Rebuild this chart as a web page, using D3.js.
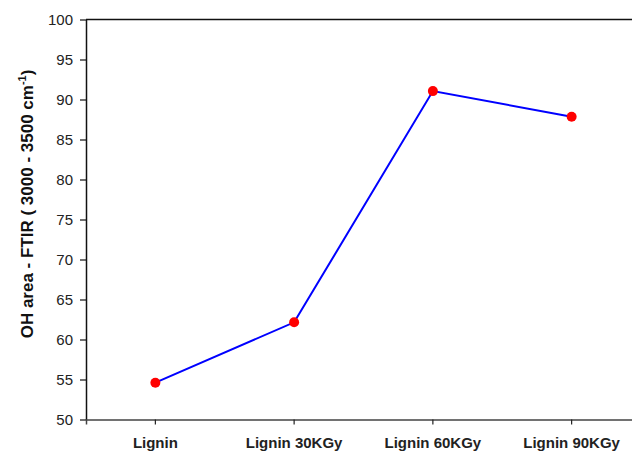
<!DOCTYPE html>
<html>
<head>
<meta charset="utf-8">
<script src="https://cdn.jsdelivr.net/npm/d3@7"></script>
<style>
  body { margin: 0; background: #fff; }
  svg { display: block; font-family: "Liberation Sans", Arial, sans-serif; }
</style>
</head>
<body>
<div id="vis"></div>
<script>
var width = 632,
    height = 452;

// data
var samples = ["Lignin", "Lignin 30KGy", "Lignin 60KGy", "Lignin 90KGy"];
var ohArea = [54.6, 62.15, 91.05, 87.85];
var yTicks = [50, 55, 60, 65, 70, 75, 80, 85, 90, 95, 100];

var plotLeft = 86, plotTop = 19.5, plotBottom = 419.5, plotRight = 641;

var svg = d3.select("#vis").append("svg")
    .attr("width", width)
    .attr("height", height);

var x = d3.scaleBand()
    .domain(samples)
    .range([plotLeft, plotRight]);

var y = d3.scaleLinear()
    .domain([50, 100])
    .range([plotBottom, plotTop]);

// top frame line
svg.append("line")
    .attr("x1", plotLeft).attr("x2", plotRight)
    .attr("y1", plotTop).attr("y2", plotTop)
    .attr("stroke", "#111")
    .attr("stroke-width", 1.5);

// y axis
var yAxis = svg.append("g")
    .attr("transform", "translate(" + plotLeft + ",0)")
    .call(d3.axisLeft(y).tickValues(yTicks).tickSize(6).tickSizeOuter(0).tickPadding(7));
yAxis.select(".domain").attr("stroke", "#111").attr("stroke-width", 1.5);
yAxis.selectAll(".tick line").attr("stroke", "#111").attr("stroke-width", 1.2);
yAxis.selectAll("text")
    .style("font-size", "15px")
    .style("fill", "#222");

// x axis
var xAxis = svg.append("g")
    .attr("transform", "translate(0," + plotBottom + ")")
    .call(d3.axisBottom(x).tickSizeOuter(0).tickSize(5).tickPadding(13));
xAxis.select(".domain").attr("stroke", "#444").attr("stroke-width", 1.5);
xAxis.selectAll(".tick line").attr("stroke", "#222").attr("stroke-width", 1.2);
xAxis.selectAll("text")
    .style("font-size", "15px")
    .style("font-weight", "bold")
    .style("fill", "#222");

// y axis title
var title = svg.append("text")
    .attr("transform", "translate(33,204) rotate(-90)")
    .attr("text-anchor", "middle")
    .style("font-size", "17px")
    .style("font-weight", "bold")
    .style("fill", "#111");
title.append("tspan").text("OH area - FTIR ( 3000 - 3500 cm");
title.append("tspan").attr("dy", -7).style("font-size", "11px").text("-1");
title.append("tspan").attr("dy", 7).text(")");

// line + points
var pts = samples.map(function(d, i) { return [x(d) + x.bandwidth() / 2, y(ohArea[i])]; });

svg.append("path")
    .datum(pts)
    .attr("fill", "none")
    .attr("stroke", "#0000ff")
    .attr("stroke-width", 2)
    .attr("d", d3.line());

svg.selectAll(".pt")
    .data(pts)
    .enter()
    .append("circle")
    .attr("class", "pt")
    .attr("cx", function(d) { return d[0]; })
    .attr("cy", function(d) { return d[1]; })
    .attr("r", 5)
    .attr("fill", "#ff0000");
</script>
</body>
</html>
